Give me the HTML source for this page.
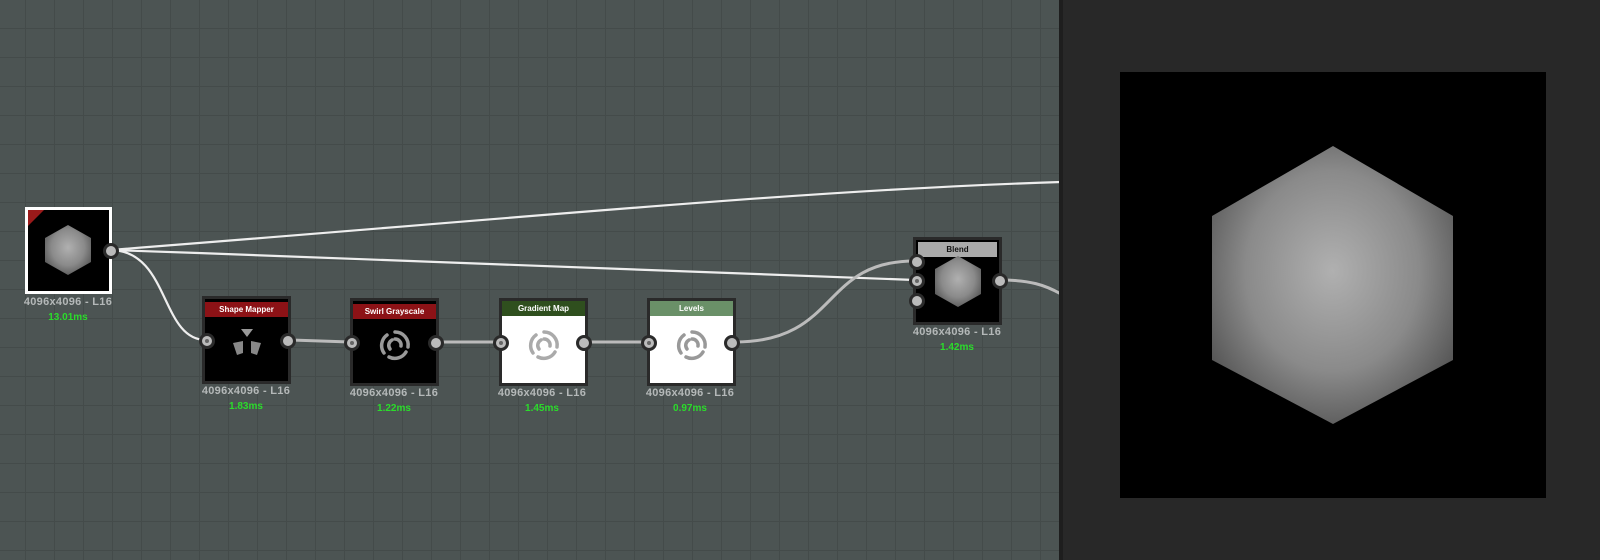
<!DOCTYPE html>
<html><head><meta charset="utf-8"><style>
body{margin:0;width:1600px;height:560px;overflow:hidden;background:#4b5352;font-family:"Liberation Sans",sans-serif;position:relative}
#graph{position:absolute;left:0;top:0;width:1059px;height:560px;background-color:#4c5453;
background-image:linear-gradient(#444b4a 1px,transparent 1px),linear-gradient(90deg,#444b4a 1px,transparent 1px);background-size:29px 29px;background-position:-4px -1px}
#div{position:absolute;left:1059px;top:0;width:4px;height:560px;background:#1e1e1e}
#right{position:absolute;left:1063px;top:0;width:537px;height:560px;background:#282828}
.node{position:absolute;width:83px;height:82px;background:#000;border:3px solid #2a2a2a;box-sizing:content-box}
.hdr{position:absolute;left:0;top:0;width:100%;height:15px;font-size:8px;font-weight:bold;color:#fff;text-align:center;line-height:15px}
.lab{position:absolute;width:120px;text-align:center;font-size:11px;font-weight:bold;color:#b4b8b8;letter-spacing:.3px}
.ms{position:absolute;width:120px;text-align:center;font-size:10px;font-weight:bold;color:#2bdc2b}
.port{position:absolute;width:10px;height:10px;border-radius:50%;background:#bbb;border:3px solid #2a2a2a}
.port.in::after{content:"";position:absolute;left:3px;top:3px;width:4px;height:4px;border-radius:50%;background:#666}
.sw{position:absolute;left:24px;top:26px}
</style></head><body>
<div id="graph"></div>
<svg width="1600" height="560" style="position:absolute;left:0;top:0">
<g fill="none" stroke-width="2.2">
<path d="M110 250 C500 220 800 190 1061 182" stroke="#eee"/>
<path d="M110 250 C400 260 700 270 915 280" stroke="#eee"/>
<path d="M110 250 C170 250 160 340 206 340" stroke="#eee"/>
<path d="M291 340 L350 342" stroke="#bbb" stroke-width="3"/>
<path d="M439 342 L499 342" stroke="#bbb" stroke-width="3"/>
<path d="M587 342 L647 342" stroke="#bbb" stroke-width="3"/>
<path d="M735 342 C840 342 820 260 916 261" stroke="#bbb" stroke-width="3"/>
<path d="M1000 280 C1030 280 1045 285 1061 294" stroke="#bbb" stroke-width="3"/>
</g>
</svg>
<div id="div"></div>
<div id="right"></div>
<div style="position:absolute;left:1120px;top:72px;width:426px;height:426px;background:#000"></div>

<div class="node" style="left:202px;top:296px"><div class="hdr" style="background:#8c1216;top:3px">Shape Mapper</div>
<svg class="sw" width="36" height="36" viewBox="0 0 36 36"><polygon points="12,4 24,4 18,12" fill="#999"/><polygon points="4,18 14,16 14,28 8,30" fill="#888"/><polygon points="22,16 32,18 28,30 22,28" fill="#888"/></svg></div>
<div class="port in" style="left:199px;top:333px"></div><div class="port" style="left:280px;top:333px"></div>
<div class="lab" style="left:186px;top:385px">4096x4096 - L16</div>
<div class="ms" style="left:186px;top:401px">1.83ms</div>

<div class="node" style="left:350px;top:298px"><div class="hdr" style="background:#8c1216;top:3px">Swirl Grayscale</div>
<svg class="sw" width="36" height="36" viewBox="-18 -18 36 36"><g fill="none" stroke="#999" stroke-width="3.5" stroke-linecap="round"><path d="M0 -13 A13 13 0 0 1 13 2"/><path d="M11 7 A13 13 0 0 1 -6 12"/><path d="M-11 8 A13 13 0 0 1 -8 -10"/><path d="M0 -6 A6 6 0 0 1 6 1"/><path d="M-5 4 A6 6 0 0 1 -3 -5"/></g></svg></div>
<div class="port in" style="left:344px;top:335px"></div><div class="port" style="left:428px;top:335px"></div>
<div class="lab" style="left:334px;top:387px">4096x4096 - L16</div>
<div class="ms" style="left:334px;top:403px">1.22ms</div>

<div class="node" style="left:499px;top:298px;background:#fff"><div class="hdr" style="background:#2f4f1e;top:0">Gradient Map</div>
<svg class="sw" width="36" height="36" viewBox="-18 -18 36 36"><g fill="none" stroke="#aaa" stroke-width="3.5" stroke-linecap="round"><path d="M0 -13 A13 13 0 0 1 13 2"/><path d="M11 7 A13 13 0 0 1 -6 12"/><path d="M-11 8 A13 13 0 0 1 -8 -10"/><path d="M0 -6 A6 6 0 0 1 6 1"/><path d="M-5 4 A6 6 0 0 1 -3 -5"/></g></svg></div>
<div class="port in" style="left:493px;top:335px"></div><div class="port" style="left:576px;top:335px"></div>
<div class="lab" style="left:482px;top:387px">4096x4096 - L16</div>
<div class="ms" style="left:482px;top:403px">1.45ms</div>

<div class="node" style="left:647px;top:298px;background:#fff"><div class="hdr" style="background:#6a9068;top:0">Levels</div>
<svg class="sw" width="36" height="36" viewBox="-18 -18 36 36"><g fill="none" stroke="#999" stroke-width="3.5" stroke-linecap="round"><path d="M0 -13 A13 13 0 0 1 13 2"/><path d="M11 7 A13 13 0 0 1 -6 12"/><path d="M-11 8 A13 13 0 0 1 -8 -10"/><path d="M0 -6 A6 6 0 0 1 6 1"/><path d="M-5 4 A6 6 0 0 1 -3 -5"/></g></svg></div>
<div class="port in" style="left:641px;top:335px"></div><div class="port" style="left:724px;top:335px"></div>
<div class="lab" style="left:630px;top:387px">4096x4096 - L16</div>
<div class="ms" style="left:630px;top:403px">0.97ms</div>

<div class="node" style="left:913px;top:237px"><div class="hdr" style="background:#aaa;color:#111;top:2px;left:2px;width:79px">Blend</div></div>

<svg width="1600" height="560" style="position:absolute;left:0;top:0">
<defs>
<radialGradient id="g" cx="50%" cy="45%" r="60%"><stop offset="0" stop-color="#b0b0b0"/><stop offset="0.6" stop-color="#8a8a8a"/><stop offset="1" stop-color="#555"/></radialGradient>
</defs>
<polygon points="1333,146 1453,216 1453,360 1333,424 1212,360 1212,216" fill="url(#g)"/>
<rect x="26.5" y="208.5" width="84" height="84" fill="#000" stroke="#fff" stroke-width="3"/>
<polygon points="28,210 44,210 28,226" fill="#9a1a1a"/>
<polygon points="68,225 91,238 91,262 68,275 45,262 45,238" fill="url(#g)"/>
<polygon points="958,256 981,269 981,294 958,307 935,294 935,269" fill="url(#g)"/>
</svg>
<div class="port" style="left:103px;top:243px"></div>
<div class="lab" style="left:8px;top:296px">4096x4096 - L16</div>
<div class="ms" style="left:8px;top:312px">13.01ms</div>

<div class="port" style="left:909px;top:254px"></div><div class="port in" style="left:909px;top:273px"></div><div class="port" style="left:909px;top:293px"></div>
<div class="port" style="left:992px;top:273px"></div>
<div class="lab" style="left:897px;top:326px">4096x4096 - L16</div>
<div class="ms" style="left:897px;top:342px">1.42ms</div>
</body></html>
